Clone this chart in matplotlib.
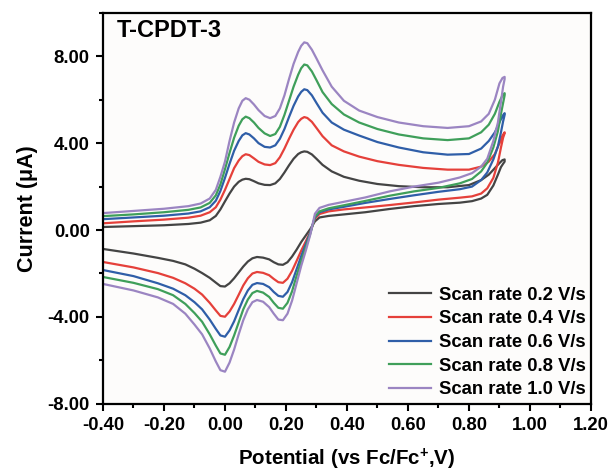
import matplotlib
matplotlib.use('Agg')
import matplotlib.pyplot as plt
from matplotlib.ticker import MultipleLocator, FormatStrFormatter

# --- DATA ---
# forward (anodic) sweep potentials, V vs Fc/Fc+
E_FWD = [-0.40, -0.30, -0.20, -0.12, -0.08, -0.05, -0.03, -0.015, 0.00, 0.015,
         0.03, 0.045, 0.057, 0.068, 0.08, 0.095, 0.11, 0.13, 0.148, 0.165,
         0.18, 0.195, 0.21, 0.225, 0.24, 0.25, 0.26, 0.27, 0.285, 0.30,
         0.32, 0.35, 0.39, 0.44, 0.50, 0.57, 0.65, 0.73, 0.80, 0.84,
         0.865, 0.885, 0.90, 0.91, 0.917]
# reverse (cathodic) sweep potentials
E_REV = [0.917, 0.912, 0.905, 0.895, 0.88, 0.86, 0.84, 0.81, 0.77, 0.70,
         0.62, 0.54, 0.46, 0.39, 0.34, 0.31, 0.295, 0.28, 0.265, 0.25,
         0.235, 0.22, 0.205, 0.19, 0.175, 0.16, 0.145, 0.125, 0.105, 0.09,
         0.075, 0.06, 0.045, 0.03, 0.015, 0.00, -0.015, -0.03, -0.05, -0.075,
         -0.10, -0.13, -0.17, -0.22, -0.30, -0.40]

LABELS = ["Scan rate 0.2 V/s", "Scan rate 0.4 V/s", "Scan rate 0.6 V/s",
          "Scan rate 0.8 V/s", "Scan rate 1.0 V/s"]
COLORS = ["#444444", "#e5403a", "#2f5ea8", "#3f9f5a", "#9b85c2"]

# current in uA
I_FWD_02 = [0.14, 0.18, 0.22, 0.28, 0.34, 0.45, 0.65, 0.95, 1.32, 1.68,
            2.00, 2.22, 2.32, 2.36, 2.34, 2.25, 2.15, 2.08, 2.07, 2.15,
            2.35, 2.65, 2.98, 3.28, 3.50, 3.58, 3.62, 3.60, 3.48, 3.28,
            3.00, 2.70, 2.45, 2.27, 2.12, 2.02, 1.97, 1.97, 2.07, 2.30,
            2.55, 2.85, 3.08, 3.22, 3.25]
I_REV_02 = [3.15, 3.05, 2.90, 2.55, 2.05, 1.62, 1.45, 1.33, 1.26, 1.20,
            1.10, 0.97, 0.82, 0.72, 0.65, 0.58, 0.40, 0.05, -0.25, -0.55,
            -0.90, -1.22, -1.48, -1.60, -1.58, -1.48, -1.35, -1.27, -1.24, -1.30,
            -1.45, -1.68, -1.95, -2.22, -2.45, -2.60, -2.58, -2.42, -2.20, -1.98,
            -1.78, -1.58, -1.42, -1.28, -1.08, -0.87]

I_FWD_04 = [0.31, 0.40, 0.48, 0.57, 0.66, 0.82, 1.05, 1.40, 1.85, 2.35,
            2.85, 3.20, 3.40, 3.49, 3.45, 3.30, 3.14, 3.02, 2.99, 3.08,
            3.35, 3.75, 4.20, 4.62, 4.97, 5.12, 5.20, 5.16, 4.98, 4.70,
            4.32, 3.90, 3.62, 3.38, 3.17, 3.00, 2.86, 2.78, 2.78, 2.92,
            3.15, 3.50, 4.00, 4.35, 4.50]
I_REV_04 = [4.45, 4.25, 3.80, 3.10, 2.40, 1.92, 1.68, 1.55, 1.49, 1.40,
            1.27, 1.15, 1.04, 0.95, 0.86, 0.74, 0.52, -0.08, -0.52, -0.95,
            -1.42, -1.88, -2.24, -2.43, -2.40, -2.25, -2.08, -1.97, -1.93, -2.00,
            -2.22, -2.55, -2.98, -3.40, -3.75, -3.99, -3.95, -3.70, -3.35, -2.97,
            -2.70, -2.45, -2.20, -1.98, -1.72, -1.47]

I_FWD_06 = [0.50, 0.58, 0.66, 0.76, 0.86, 1.05, 1.35, 1.80, 2.40, 3.05,
            3.65, 4.10, 4.36, 4.46, 4.40, 4.22, 4.00, 3.83, 3.80, 3.90,
            4.20, 4.65, 5.20, 5.72, 6.15, 6.36, 6.48, 6.44, 6.20, 5.85,
            5.40, 4.95, 4.62, 4.35, 4.05, 3.80, 3.58, 3.47, 3.50, 3.75,
            4.10, 4.50, 4.95, 5.25, 5.38]
I_REV_06 = [5.30, 5.00, 4.50, 3.85, 3.25, 2.65, 2.30, 2.00, 1.88, 1.76,
            1.60, 1.43, 1.25, 1.07, 0.95, 0.82, 0.58, -0.10, -0.65, -1.20,
            -1.80, -2.40, -2.85, -3.07, -3.03, -2.85, -2.63, -2.48, -2.44, -2.52,
            -2.78, -3.18, -3.68, -4.20, -4.62, -4.91, -4.85, -4.55, -4.12, -3.65,
            -3.32, -3.00, -2.70, -2.45, -2.12, -1.84]

I_FWD_08 = [0.64, 0.72, 0.82, 0.93, 1.04, 1.25, 1.60, 2.10, 2.80, 3.55,
            4.25, 4.80, 5.10, 5.22, 5.15, 4.95, 4.70, 4.45, 4.33, 4.42,
            4.75, 5.30, 5.95, 6.60, 7.15, 7.45, 7.62, 7.58, 7.30, 6.90,
            6.35, 5.80, 5.32, 4.95, 4.65, 4.40, 4.22, 4.14, 4.22, 4.50,
            4.85, 5.35, 5.90, 6.20, 6.30]
I_REV_08 = [6.20, 5.85, 5.35, 4.55, 3.80, 3.10, 2.70, 2.35, 2.15, 1.94,
            1.78, 1.58, 1.34, 1.14, 1.00, 0.86, 0.62, -0.15, -0.80, -1.42,
            -2.10, -2.82, -3.35, -3.62, -3.58, -3.35, -3.08, -2.88, -2.80, -2.90,
            -3.20, -3.65, -4.25, -4.85, -5.38, -5.74, -5.68, -5.32, -4.80, -4.22,
            -3.82, -3.40, -3.00, -2.72, -2.43, -2.16]

I_FWD_10 = [0.78, 0.88, 0.98, 1.10, 1.22, 1.45, 1.85, 2.45, 3.15, 4.10,
            4.95, 5.60, 5.95, 6.07, 6.00, 5.78, 5.52, 5.25, 5.15, 5.25,
            5.60, 6.20, 6.95, 7.65, 8.20, 8.48, 8.64, 8.60, 8.30, 7.90,
            7.35, 6.60, 5.95, 5.50, 5.20, 4.95, 4.78, 4.70, 4.78, 5.00,
            5.35, 6.00, 6.75, 7.00, 7.05]
I_REV_10 = [6.95, 6.60, 5.90, 4.95, 4.10, 3.28, 2.92, 2.62, 2.42, 2.18,
            2.00, 1.78, 1.50, 1.30, 1.16, 1.02, 0.75, -0.20, -0.95, -1.65,
            -2.45, -3.25, -3.85, -4.15, -4.12, -3.85, -3.55, -3.30, -3.22, -3.32,
            -3.65, -4.15, -4.80, -5.50, -6.10, -6.52, -6.45, -6.05, -5.45, -4.80,
            -4.35, -3.85, -3.40, -3.10, -2.78, -2.48]

CURVES = [(I_FWD_02, I_REV_02), (I_FWD_04, I_REV_04), (I_FWD_06, I_REV_06),
          (I_FWD_08, I_REV_08), (I_FWD_10, I_REV_10)]

# --- STYLE ---
plt.rcParams['font.family'] = ['Liberation Sans', 'DejaVu Sans']
plt.rcParams['font.weight'] = 'bold'
plt.rcParams['mathtext.fontset'] = 'custom'
plt.rcParams['mathtext.rm'] = 'Liberation Sans:bold'
plt.rcParams['mathtext.bf'] = 'Liberation Sans:bold'
plt.rcParams['mathtext.default'] = 'bf'

fig = plt.figure(figsize=(6.13, 4.74), dpi=100)
ax = fig.add_axes([0.168, 0.148, 0.796, 0.825])
ax.set_facecolor('#fdfcfb')

for (fwd, rev), lab, col in zip(CURVES, LABELS, COLORS):
    ax.plot(E_FWD + E_REV, fwd + rev, color=col, lw=1.6, label=lab,
            solid_joinstyle='round')

ax.set_xlim(-0.4, 1.2)
ax.set_ylim(-8, 10)
ax.xaxis.set_major_locator(MultipleLocator(0.2))
ax.xaxis.set_minor_locator(MultipleLocator(0.1))
ax.yaxis.set_major_locator(MultipleLocator(4))
ax.yaxis.set_minor_locator(MultipleLocator(2))
ax.xaxis.set_major_formatter(FormatStrFormatter('%.2f'))
ax.yaxis.set_major_formatter(FormatStrFormatter('%.2f'))
ax.tick_params(which='major', direction='out', length=5, width=1.5,
               labelsize=13.3, pad=4.5)
ax.tick_params(which='minor', direction='out', length=3, width=1.5)
for sp in ax.spines.values():
    sp.set_linewidth(1.6)

ax.set_xlabel("Potential (vs Fc/Fc$^{+}$,V)", fontsize=14.8, fontweight='bold', labelpad=9)
ax.set_ylabel("Current (\u03bcA)", fontsize=15.5, fontweight='bold', labelpad=7)

ax.text(0.029, 0.985, "T-CPDT-3", transform=ax.transAxes, fontsize=17,
        fontweight='bold', va='top', ha='left')

leg = ax.legend(loc='lower right', frameon=False, fontsize=13.3, handlelength=2.3,
                handletextpad=0.4, labelspacing=0.36, borderaxespad=-0.1)
for t in leg.get_texts():
    t.set_fontweight('bold')

fig.savefig("out.png", dpi=100)
